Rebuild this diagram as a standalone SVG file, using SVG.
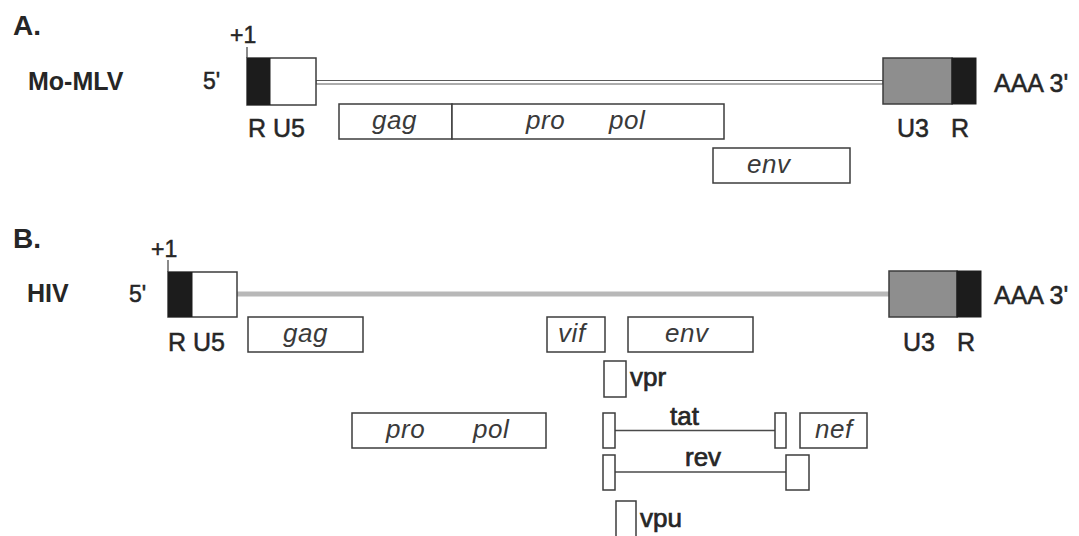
<svg xmlns="http://www.w3.org/2000/svg" width="1079" height="536" viewBox="0 0 1079 536">
  <style>
    text { font-family: "Liberation Sans", Arial, sans-serif; fill: #262626; }
    .panel { font-size: 28px; font-weight: bold; }
    .virus { font-size: 25px; font-weight: bold; }
    .lbl { font-size: 25px; stroke: #262626; stroke-width: 0.5; }
    .small { font-size: 23px; stroke: #262626; stroke-width: 0.5; }
    .orf { font-size: 26px; stroke: #262626; stroke-width: 0.7; }
    .gene { font-size: 26px; font-style: italic; fill: #3a3a3a; letter-spacing: 0.6px; }
    .box { fill: #ffffff; stroke: #3c3c3c; stroke-width: 1.5; }
    .blk { fill: #1c1c1c; stroke: #1c1c1c; stroke-width: 1; }
    .gry { fill: #8e8e8e; stroke: #3c3c3c; stroke-width: 1.5; }
    .tick { stroke: #3c3c3c; stroke-width: 1.2; }
    .join { stroke: #4a4a4a; stroke-width: 1.3; fill: none; }
  </style>

  <!-- Panel A: Mo-MLV provirus -->
  <g id="panelA">
    <text class="panel" x="13" y="35">A.</text>
    <text class="virus" x="28" y="90">Mo-MLV</text>
    <text class="small" x="203" y="89">5'</text>
    <text class="small" x="230" y="43">+1</text>
    <line class="tick" x1="247" y1="47" x2="247" y2="58"/>
    <text class="lbl" x="994" y="92">AAA 3'</text>
  </g>

  <g id="connectors">
    <!-- Mo-MLV genome: double rail -->
    <rect x="316" y="80.5" width="567" height="3.5" fill="#ffffff" stroke="#5a5a5a" stroke-width="1"/>
    <!-- HIV genome: grey bar -->
    <rect x="237" y="291.5" width="652" height="5" fill="#b8b8b8"/>
    <!-- tat exon splice -->
    <line class="join" x1="615" y1="430.5" x2="775" y2="430.5"/>
    <!-- rev exon splice -->
    <line class="join" x1="615" y1="472" x2="786" y2="472"/>
  </g>

  <g id="mlv-5ltr">
    <rect class="box" x="247" y="58" width="69" height="47"/>
    <rect class="blk" x="247.5" y="58.5" width="22.5" height="46"/>
    <text class="lbl" x="248" y="137">R U5</text>
  </g>
  <g id="mlv-3ltr">
    <rect class="gry" x="883" y="58" width="69" height="46"/>
    <rect class="blk" x="952" y="58" width="24" height="46"/>
    <text class="lbl" x="897" y="137">U3</text>
    <text class="lbl" x="951" y="137">R</text>
  </g>
  <g id="mlv-gag">
    <rect class="box" x="339" y="104" width="113" height="35"/>
    <text class="gene" x="372" y="129">gag</text>
  </g>
  <g id="mlv-pol">
    <rect class="box" x="452" y="104" width="272" height="35"/>
    <text class="gene" x="526" y="129">pro</text>
    <text class="gene" x="609" y="129">pol</text>
  </g>
  <g id="mlv-env">
    <rect class="box" x="713" y="148" width="137" height="35"/>
    <text class="gene" x="747" y="173">env</text>
  </g>

  <!-- Panel B: HIV provirus -->
  <g id="panelB">
    <text class="panel" x="13" y="248">B.</text>
    <text class="virus" x="27" y="302">HIV</text>
    <text class="small" x="129" y="302">5'</text>
    <text class="small" x="151" y="257">+1</text>
    <line class="tick" x1="168" y1="260" x2="168" y2="272"/>
    <text class="lbl" x="994" y="304">AAA 3'</text>
  </g>

  <g id="hiv-5ltr">
    <rect class="box" x="168" y="272" width="69" height="45"/>
    <rect class="blk" x="168.5" y="272.5" width="23.5" height="44"/>
    <text class="lbl" x="168" y="351">R U5</text>
  </g>
  <g id="hiv-3ltr">
    <rect class="gry" x="889" y="271" width="68" height="46"/>
    <rect class="blk" x="957" y="271" width="24" height="46"/>
    <text class="lbl" x="903" y="351">U3</text>
    <text class="lbl" x="957" y="351">R</text>
  </g>
  <g id="hiv-gag">
    <rect class="box" x="248" y="317" width="115" height="35"/>
    <text class="gene" x="283" y="342">gag</text>
  </g>
  <g id="hiv-vif">
    <rect class="box" x="547" y="317" width="58" height="35"/>
    <text class="gene" x="558" y="342">vif</text>
  </g>
  <g id="hiv-env">
    <rect class="box" x="628" y="317" width="125" height="35"/>
    <text class="gene" x="665" y="342">env</text>
  </g>
  <g id="hiv-vpr">
    <rect class="box" x="604" y="361" width="22" height="36"/>
    <text class="orf" x="630" y="386">vpr</text>
  </g>
  <g id="hiv-pol">
    <rect class="box" x="352" y="413" width="194" height="35"/>
    <text class="gene" x="386" y="438">pro</text>
    <text class="gene" x="473" y="438">pol</text>
  </g>
  <g id="hiv-tat">
    <rect class="box" x="603" y="413" width="12" height="35"/>
    <rect class="box" x="775" y="413" width="11" height="35"/>
    <text class="orf" x="670" y="425">tat</text>
  </g>
  <g id="hiv-nef">
    <rect class="box" x="800" y="413" width="67" height="35"/>
    <text class="gene" x="815" y="438">nef</text>
  </g>
  <g id="hiv-rev">
    <rect class="box" x="603" y="455" width="12" height="35"/>
    <rect class="box" x="786" y="455" width="23" height="35"/>
    <text class="orf" x="685" y="466">rev</text>
  </g>
  <g id="hiv-vpu">
    <rect class="box" x="616" y="501" width="20" height="40"/>
    <text class="orf" x="640" y="527">vpu</text>
  </g>
</svg>
